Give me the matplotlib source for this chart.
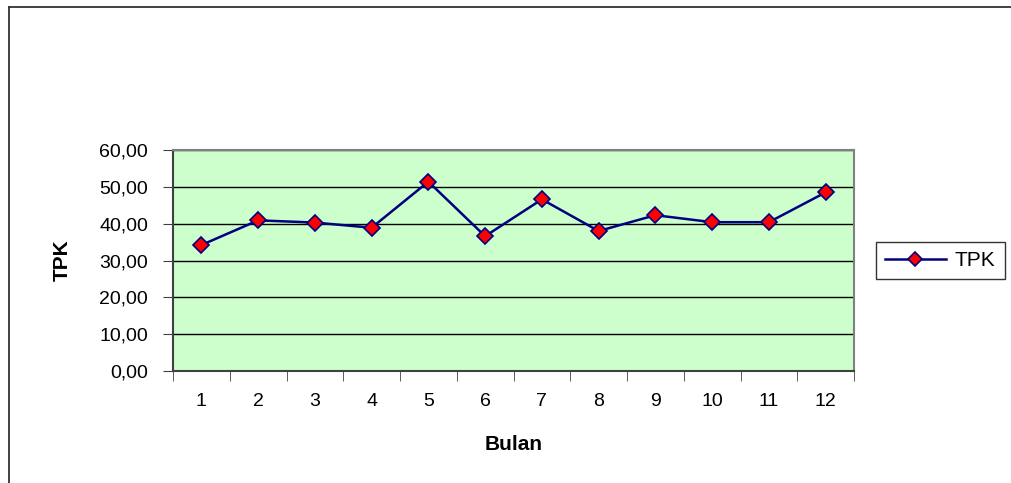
import numpy as np
import matplotlib.pyplot as plt
from matplotlib.lines import Line2D

# -------------------------------
# Data
# -------------------------------
bulan = [1, 2, 3, 4, 5, 6, 7, 8, 9, 10, 11, 12]
tpk = [34.2, 40.9, 40.3, 38.9, 51.4, 36.6, 46.6, 38.0, 42.3, 40.4, 40.4, 48.5]
yticks = [0, 10, 20, 30, 40, 50, 60]
ylabels = ["0,00", "10,00", "20,00", "30,00", "40,00", "50,00", "60,00"]

plt.rcParams['font.family'] = ['Liberation Sans', 'DejaVu Sans']

W, H = 1011, 483
fig = plt.figure(figsize=(W / 100, H / 100), dpi=100)
ax = fig.add_axes([173 / W, 1 - 371 / H, 681 / W, 221 / H])

# outer chart frame (only top and left edges visible)
fig.add_artist(Line2D([8.5 / W, 1.0], [1 - 6.5 / H, 1 - 6.5 / H], transform=fig.transFigure,
                      color='#333333', linewidth=1.3))
fig.add_artist(Line2D([8.5 / W, 8.5 / W], [0.0, 1 - 6.5 / H], transform=fig.transFigure,
                      color='#333333', linewidth=1.3))

ax.set_facecolor('#CCFFCC')
ax.plot(bulan, tpk, color='#000080', linewidth=1.8, marker='D', markersize=8,
        markerfacecolor='red', markeredgecolor='#000080', markeredgewidth=1.2,
        label='TPK', zorder=3)

ax.set_xlim(0.5, 12.5)
ax.set_ylim(0, 60)
ax.set_yticks(yticks)
ax.set_yticklabels(ylabels, fontsize=14)
ax.set_xticks(bulan)
ax.set_xticklabels([str(b) for b in bulan], fontsize=14)
ax.tick_params(axis='x', which='major', length=0, pad=16)
ax.set_xticks(np.arange(0.5, 13, 1), minor=True)
ax.tick_params(axis='x', which='minor', length=7, direction='out', color='#404040')
ax.tick_params(axis='y', length=7, direction='out', pad=11, color='#404040')

ax.grid(axis='y', color='black', linewidth=1.0)
ax.set_axisbelow(True)
for side in ['top', 'right']:
    ax.spines[side].set_color('#808080')
    ax.spines[side].set_linewidth(1.5)
ax.spines['left'].set_color('#404040')
ax.spines['bottom'].set_color('#404040')
ax.spines['left'].set_linewidth(1.5)
ax.spines['bottom'].set_linewidth(1.5)

ax.set_xlabel('Bulan', fontsize=15, fontweight='bold', labelpad=18)
ax.set_ylabel('TPK', fontsize=15, fontweight='bold', labelpad=20)

leg = ax.legend(loc='center left', bbox_to_anchor=(1.032, 0.5), borderaxespad=0,
                fontsize=15, frameon=True, fancybox=False, handlelength=2.9,
                handletextpad=0.45, borderpad=0.45, markerscale=0.85)
leg.get_frame().set_edgecolor('black')
leg.get_frame().set_linewidth(1.0)

fig.savefig('out.png', dpi=100)
